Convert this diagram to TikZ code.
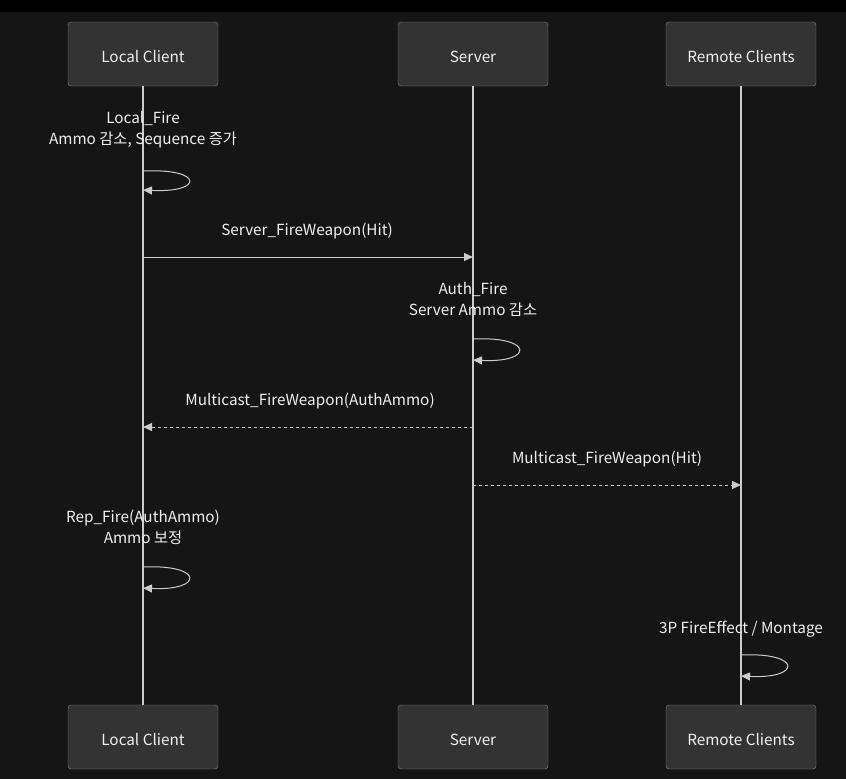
\documentclass[tikz,border=0pt]{standalone}
\usepackage{fontspec}
\setmainfont{Noto Sans CJK KR}
\usetikzlibrary{arrows.meta}
\definecolor{bgDark}{HTML}{151515}
\definecolor{boxFill}{HTML}{333333}
\definecolor{boxLine}{HTML}{858585}
\definecolor{wireGray}{HTML}{CCCCCC}
\definecolor{txtWhite}{HTML}{F0F0F0}
\begin{document}
\begin{tikzpicture}
[x=1pt,y=-1pt,
  actorBox/.style={shape=rectangle,rounded corners=3pt,draw=boxLine,fill=boxFill,
    minimum width=150pt,minimum height=64pt,text=txtWhite,font=\fontsize{15.3}{18}\selectfont},%
  lifeLine/.style={-,draw=wireGray,line width=1.6pt},%
  msgLine/.style={-{Triangle[length=9pt,width=8pt]},draw=wireGray,line width=1pt},%
  replyLine/.style={msgLine,dash pattern=on 3pt off 3pt},%
  msgText/.style={text=txtWhite,align=center,font=\fontsize{15.3}{21}\selectfont}]
\useasboundingbox (0,0) rectangle (846,779);
\fill[bgDark] (0,12) rectangle (846,779);
\fill[black] (0,0) rectangle (846,12);
%% participants and lifelines
\foreach \name/\x/\label in {
  lc/143/Local Client, sv/473/Server, rc/741/Remote Clients}
{
  \node (\name T) at (\x,54) [actorBox] {\raisebox{-3pt}[\height][\depth]{\label}};
  \node (\name B) at (\x,737) [actorBox] {\raisebox{-3pt}[\height][\depth]{\label}};
  \draw[lifeLine] (\name T) -- (\name B);
}
%% points on the lifelines
\foreach \ptname/\lane/\y in {
  lcLa/lc/171, lcLb/lc/190, lcS/lc/257, svS/sv/257,
  svLa/sv/339, svLb/sv/360, svM/sv/427, lcM/lc/427,
  svH/sv/485, rcH/rc/485, lcRa/lc/567, lcRb/lc/588,
  rcLa/rc/655, rcLb/rc/676}
{
  \coordinate (\ptname) at (\lane T |- 0,\y);
}
%% labels
\node (t1) at (143,130) [msgText] {Local\_Fire\\Ammo 감소, Sequence 증가};
\node (t2) at (307,231) [msgText] {Server\_FireWeapon(Hit)};
\node (t3) at (473,299) [msgText] {Auth\_Fire\\Server Ammo 감소};
\node (t4) at (310,401) [msgText] {Multicast\_FireWeapon(AuthAmmo)};
\node (t5) at (607,459) [msgText] {Multicast\_FireWeapon(Hit)};
\node (t6) at (143,527) [msgText] {Rep\_Fire(AuthAmmo)\\Ammo 보정};
\node (t7) at (741,629) [msgText] {3P FireEffect / Montage};
%% messages
\draw[msgLine] (lcS) -- (svS);
\draw[replyLine] (svM) -- (lcM);
\draw[replyLine] (svH) -- (rcH);
\foreach \a/\b in {lcLa/lcLb, svLa/svLb, lcRa/lcRb, rcLa/rcLb}
{
  \draw[msgLine] (\a) .. controls +(61,-3) and +(61,3) .. (\b);
}
\end{tikzpicture}
\end{document}
